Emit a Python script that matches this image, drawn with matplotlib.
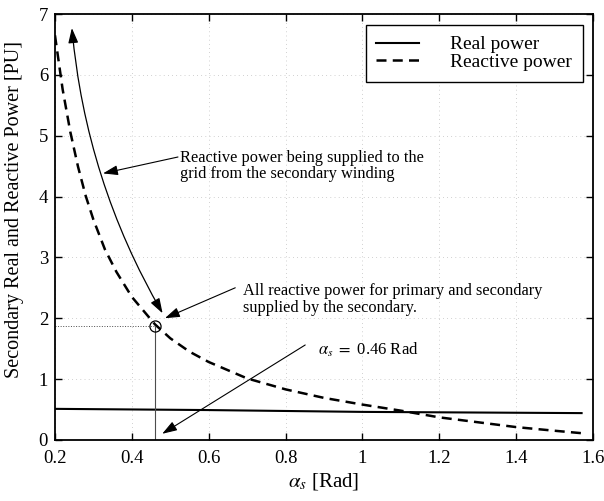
import matplotlib
matplotlib.use("Agg")
import matplotlib.pyplot as plt

plt.rcParams['font.family'] = ['Liberation Serif', 'DejaVu Serif']
plt.rcParams['mathtext.fontset'] = 'stix'

# values
alpha = [0.20, 0.22, 0.24, 0.26, 0.28, 0.30, 0.33, 0.36, 0.40, 0.46, 0.50, 0.55,
         0.60, 0.70, 0.80, 0.90, 1.00, 1.10, 1.20, 1.30, 1.40, 1.50, 1.57]
reactive = [6.65, 5.76, 5.06, 4.49, 4.01, 3.62, 3.13, 2.76, 2.35, 1.90, 1.67, 1.45,
            1.28, 1.01, 0.83, 0.69, 0.58, 0.48, 0.37, 0.29, 0.21, 0.15, 0.11]
alpha_real = [0.20, 0.60, 1.00, 1.57]
real = [0.51, 0.49, 0.46, 0.44]

op_alpha = 0.46
op_q = 1.88

fig = plt.figure(figsize=(6.04, 5.01), dpi=100)
ax = fig.add_axes([0.091, 0.122, 0.891, 0.850])

ax.plot(alpha_real, real, color='black', lw=1.5, label='Real power')
ax.plot(alpha, reactive, color='black', lw=1.8, dashes=(4, 2.5), label='Reactive power')

# operating point
ax.plot([0.2, op_alpha], [op_q, op_q], color='0.3', lw=0.7, ls=':')
ax.plot([op_alpha, op_alpha], [0, op_q], color='0.3', lw=0.8)
ax.plot(op_alpha, op_q, 'o', mfc='none', mec='black', ms=8, mew=0.9)

arrow = dict(arrowstyle='-|>,head_length=0.9,head_width=0.3', color='black', lw=0.8,
             shrinkA=0, shrinkB=0)

# curved double arrow
ax.annotate('', xy=(0.48, 2.08), xytext=(0.244, 6.77),
            arrowprops=dict(arrowstyle='<|-|>,head_length=0.9,head_width=0.3', color='black',
                            lw=0.9, shrinkA=0, shrinkB=0, connectionstyle='arc3,rad=0.11'))

ax.annotate('', xy=(0.325, 4.38), xytext=(0.52, 4.65), arrowprops=arrow)
ax.text(0.525, 4.5, 'Reactive power being supplied to the\ngrid from the secondary winding',
        fontsize=11.8, va='center', ha='left', linespacing=1.05)

ax.annotate('', xy=(0.486, 2.0), xytext=(0.669, 2.5), arrowprops=arrow)
ax.text(0.69, 2.31, 'All reactive power for primary and secondary\nsupplied by the secondary.',
        fontsize=11.8, va='center', ha='left', linespacing=1.05)

ax.annotate('', xy=(0.479, 0.1), xytext=(0.851, 1.56), arrowprops=arrow)
ax.text(0.885, 1.48, r'$\alpha_s\ =\ $0.46 Rad', fontsize=12, va='center', ha='left')

ax.set_xlim(0.2, 1.6)
ax.set_ylim(0, 7)
ax.set_xticks([0.2, 0.4, 0.6, 0.8, 1.0, 1.2, 1.4, 1.6])
ax.set_xticklabels(['0.2', '0.4', '0.6', '0.8', '1', '1.2', '1.4', '1.6'])
ax.set_yticks(range(8))
ax.tick_params(direction='in', top=True, right=True, labelsize=13.5, length=5, width=1)
ax.tick_params(axis='x', pad=7)
ax.tick_params(axis='y', pad=5)
for s in ax.spines.values():
    s.set_linewidth(1.3)

ax.grid(True, color='0.65', lw=0.5, ls=(0, (1, 5)))

ax.set_xlabel(r'$\alpha_s$ [Rad]', fontsize=15, labelpad=3)
ax.set_ylabel('Secondary Real and Reactive Power [PU]', fontsize=14.5)
ax.yaxis.set_label_coords(-0.058, 0.542)

leg = ax.legend(loc='upper right', fontsize=14, frameon=True, fancybox=False,
                edgecolor='black', framealpha=1, handlelength=2.2, borderpad=0.55,
                labelspacing=0.0, handletextpad=1.6, borderaxespad=0,
                bbox_to_anchor=(0.981, 0.974))
leg.get_frame().set_linewidth(1.0)

fig.savefig('out.png', dpi=100)
